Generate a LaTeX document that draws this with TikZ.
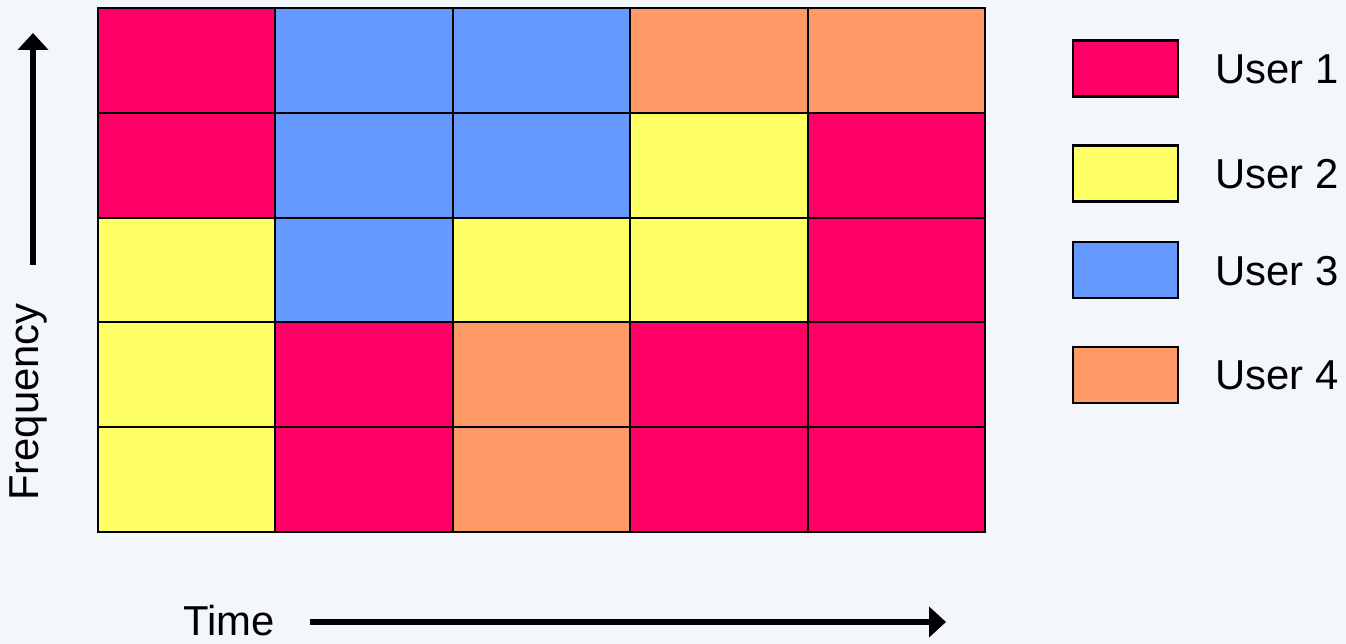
\documentclass[tikz,border=0pt]{standalone}
\usepackage{fontspec}
\setmainfont{Liberation Sans}
\usepackage{xcolor}
\usetikzlibrary{arrows.meta, positioning}

\definecolor{uone}{HTML}{FF0066}
\definecolor{utwo}{HTML}{FFFF66}
\definecolor{uthree}{HTML}{6699FF}
\definecolor{ufour}{HTML}{FF9966}
\definecolor{bgpale}{HTML}{F3F6FA}

\tikzset{
  cell/.style={draw, line width=1.2pt, inner sep=0pt, minimum width=3.548cm, minimum height=2.096cm},
  key/.style={draw, line width=1.2pt, inner sep=0pt, minimum width=2.1cm, minimum height=1.12cm},
  lbl/.style={font=\fontsize{23.8}{28}\selectfont, inner sep=0pt},
  axis/.style={line width=3.2pt, -{Triangle[length=0.34cm, width=0.6cm]}}
}

\begin{document}
\begin{tikzpicture}[x=0.02cm, y=-0.02cm]
\fill[bgpale] (0,0) rectangle (1346,644);
\useasboundingbox (0,0) rectangle (1346,644);
% row 1
\node[cell, fill=uone] (a1) at (186.7,60.4) {};
\node[cell, fill=uthree] (a2) at (364.1,60.4) {};
\node[cell, fill=uthree] (a3) at (541.5,60.4) {};
\node[cell, fill=ufour] (a4) at (718.9,60.4) {};
\node[cell, fill=ufour] (a5) at (896.3,60.4) {};
% row 2
\node[cell, fill=uone] (b1) at (186.7,165.2) {};
\node[cell, fill=uthree] (b2) at (364.1,165.2) {};
\node[cell, fill=uthree] (b3) at (541.5,165.2) {};
\node[cell, fill=utwo] (b4) at (718.9,165.2) {};
\node[cell, fill=uone] (b5) at (896.3,165.2) {};
% row 3
\node[cell, fill=utwo] (c1) at (186.7,270) {};
\node[cell, fill=uthree] (c2) at (364.1,270) {};
\node[cell, fill=utwo] (c3) at (541.5,270) {};
\node[cell, fill=utwo] (c4) at (718.9,270) {};
\node[cell, fill=uone] (c5) at (896.3,270) {};
% row 4
\node[cell, fill=utwo] (d1) at (186.7,374.8) {};
\node[cell, fill=uone] (d2) at (364.1,374.8) {};
\node[cell, fill=ufour] (d3) at (541.5,374.8) {};
\node[cell, fill=uone] (d4) at (718.9,374.8) {};
\node[cell, fill=uone] (d5) at (896.3,374.8) {};
% row 5
\node[cell, fill=utwo] (e1) at (186.7,479.6) {};
\node[cell, fill=uone] (e2) at (364.1,479.6) {};
\node[cell, fill=ufour] (e3) at (541.5,479.6) {};
\node[cell, fill=uone] (e4) at (718.9,479.6) {};
\node[cell, fill=uone] (e5) at (896.3,479.6) {};

% legend
\node[key, fill=uone] (k1) at (1125.5,68.5) {};
\node[key, fill=utwo] (k2) at (1125.5,173.5) {};
\node[key, fill=uthree] (k3) at (1125.5,270) {};
\node[key, fill=ufour] (k4) at (1125.5,375) {};
\node[lbl, anchor=west] (u1) at (1215,69) {User 1};
\node[lbl, anchor=west] (u2) at (1215,174) {User 2};
\node[lbl, anchor=west] (u3) at (1215,271) {User 3};
\node[lbl, anchor=west] (u4) at (1215,375.5) {User 4};

% axes
\node[lbl, rotate=90] (freq) at (28,402) {Frequency};
\coordinate (f0) at (33,265);
\coordinate (f1) at (33,33);
\draw[axis] (f0) -- (f1);
\node[lbl] (time) at (229,621) {Time};
\coordinate (t0) at (310,622);
\coordinate (t1) at (946,622);
\draw[axis] (t0) -- (t1);
    \end{tikzpicture}
\end{document}
